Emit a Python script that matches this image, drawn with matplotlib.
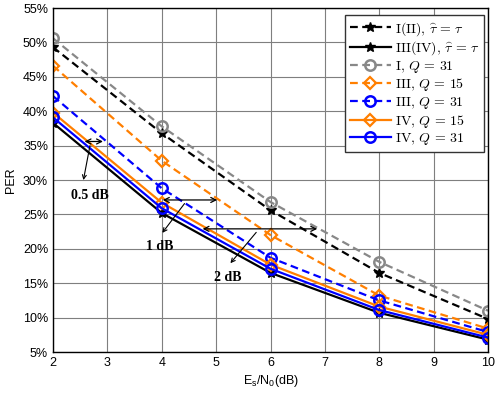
import matplotlib
matplotlib.use("Agg")
import matplotlib.pyplot as plt
from matplotlib.font_manager import FontProperties
from matplotlib.ticker import FuncFormatter

plt.rcParams['font.family'] = ['Liberation Sans', 'DejaVu Sans']
plt.rcParams['mathtext.fontset'] = 'custom'
plt.rcParams['mathtext.rm'] = 'Liberation Sans'
plt.rcParams['mathtext.it'] = 'Liberation Sans'

snr = [2, 4, 6, 8, 10]
per_I_II_ideal = [49.3, 36.8, 25.6, 16.5, 9.8]
per_III_IV_ideal = [38.3, 25.2, 16.5, 10.7, 6.8]
per_I_Q31 = [50.6, 37.8, 26.8, 18.1, 11.0]
per_III_Q15 = [46.6, 32.8, 22.0, 13.2, 8.4]
per_III_Q31 = [42.2, 28.8, 18.7, 12.5, 7.9]
per_IV_Q15 = [39.8, 26.7, 17.7, 11.6, 7.5]
per_IV_Q31 = [39.1, 25.9, 17.1, 11.1, 7.1]

labels = [r'$\mathrm{I(II)},\,\widehat{\tau}\,=\,\tau$',
          r'$\mathrm{III(IV)},\,\widehat{\tau}\,=\,\tau$',
          r'$\mathrm{I},\,Q\,=\,31$',
          r'$\mathrm{III},\,Q\,=\,15$',
          r'$\mathrm{III},\,Q\,=\,31$',
          r'$\mathrm{IV},\,Q\,=\,15$',
          r'$\mathrm{IV},\,Q\,=\,31$']

orange = '#FF7F00'
blue = '#0000FF'
gray = '#888888'

fig = plt.figure(figsize=(4.98, 3.93), dpi=100)
ax = fig.add_axes([0.1064, 0.1043, 0.8736, 0.8753])

lw = 1.6
dash = (0, (3.5, 2))
ax.plot(snr, per_I_II_ideal, color='black', ls=dash, lw=lw, marker='*', ms=7, mew=1.0, label=labels[0])
ax.plot(snr, per_III_IV_ideal, color='black', ls='-', lw=lw, marker='*', ms=7, mew=1.0, label=labels[1])
ax.plot(snr, per_I_Q31, color=gray, ls=dash, lw=lw, marker='o', ms=7.5, mfc='none', mew=1.8, label=labels[2])
ax.plot(snr, per_III_Q15, color=orange, ls=dash, lw=lw, marker='D', ms=6, mfc='none', mew=1.6, label=labels[3])
ax.plot(snr, per_III_Q31, color=blue, ls=dash, lw=lw, marker='o', ms=7.5, mfc='none', mew=1.8, label=labels[4])
ax.plot(snr, per_IV_Q15, color=orange, ls='-', lw=lw, marker='D', ms=6, mfc='none', mew=1.6, label=labels[5])
ax.plot(snr, per_IV_Q31, color=blue, ls='-', lw=lw, marker='o', ms=7.5, mfc='none', mew=1.8, label=labels[6])

ax.set_xlim(2, 10)
ax.set_ylim(5, 55)
ax.set_xticks(range(2, 11))
ax.set_yticks(range(5, 56, 5))
ax.yaxis.set_major_formatter(FuncFormatter(lambda v, p: f'{int(v)}%'))
ax.tick_params(labelsize=9, direction='in', length=0)
ax.grid(True, color='#7f7f7f', lw=0.8)
ax.set_axisbelow(True)
for s in ax.spines.values():
    s.set_linewidth(1.0)

ax.set_xlabel(r'E$_\mathrm{s}$/N$_0$(dB)', fontsize=9, labelpad=3)
ax.set_ylabel('PER', fontsize=9, labelpad=4)

leg_fp = FontProperties(family='DejaVu Serif', size=10, math_fontfamily='cm')
leg = ax.legend(loc='upper right', prop=leg_fp, handlelength=2.9, handletextpad=0.3,
                labelspacing=0.12, borderpad=0.35, borderaxespad=0, fancybox=False,
                framealpha=1, edgecolor='#333333', bbox_to_anchor=(0.991, 0.98))
leg.get_frame().set_linewidth(1.0)

# annotations
ann_font = dict(family='Liberation Serif', weight='bold', size=10, ha='center', va='center')
arrow_kw = dict(arrowstyle='<->', color='black', lw=0.9, mutation_scale=9)
ptr_kw = dict(arrowstyle='->', color='black', lw=0.8, mutation_scale=7)

ax.annotate('', xy=(2.53, 35.6), xytext=(2.97, 35.6), arrowprops=arrow_kw)
ax.annotate('', xy=(2.55, 29.6), xytext=(2.69, 35.4), arrowprops=ptr_kw)
ax.text(2.68, 27.8, '0.5 dB', **ann_font)

ax.annotate('', xy=(3.97, 27.1), xytext=(5.07, 27.1), arrowprops=arrow_kw)
ax.annotate('', xy=(3.98, 22.0), xytext=(4.45, 26.9), arrowprops=ptr_kw)
ax.text(3.97, 20.3, '1 dB', **ann_font)

ax.annotate('', xy=(4.70, 22.9), xytext=(6.91, 22.9), arrowprops=arrow_kw)
ax.annotate('', xy=(5.23, 17.6), xytext=(5.77, 22.7), arrowprops=ptr_kw)
ax.text(5.22, 15.9, '2 dB', **ann_font)

fig.savefig('out.png', dpi=100)
